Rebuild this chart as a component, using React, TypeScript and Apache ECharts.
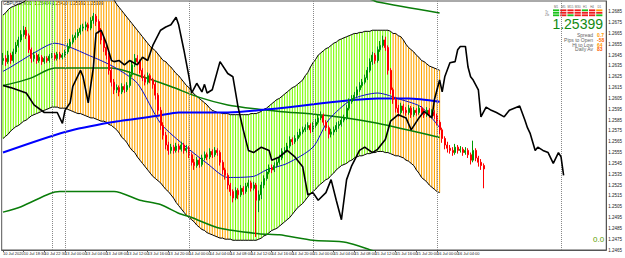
import React, { useEffect, useRef } from 'react';
import * as echarts from 'echarts';

// ---------- data ----------
const N_BARS = 234; // visible slots on the time axis (M30 bars)
const tickLabels = [
  '10 Jul 2020', '10 Jul 18:30', '10 Jul 22:30', '13 Jul 00:00', '13 Jul 04:00', '13 Jul 08:00',
  '13 Jul 12:00', '13 Jul 16:00', '13 Jul 20:00', '14 Jul 00:00', '14 Jul 04:00', '14 Jul 08:00',
  '14 Jul 12:00', '14 Jul 16:00', '14 Jul 20:00', '15 Jul 00:00', '15 Jul 04:00', '15 Jul 08:00',
  '15 Jul 12:00', '15 Jul 16:00', '15 Jul 20:00', '16 Jul 00:00', '16 Jul 04:00', '16 Jul 08:00',
];
const separatorBars = [19, 24, 72, 120, 168, 216];

const firstOpen = 1.2640;
const closes = [
  1.2642, 1.2639, 1.2645, 1.2640, 1.2648, 1.2654, 1.2659, 1.2664, 1.2668, 1.2663,
  1.2650, 1.2642, 1.2645, 1.2640, 1.2643, 1.2639, 1.2642, 1.2640, 1.2644, 1.2645,
  1.2642, 1.2646, 1.2643, 1.2645, 1.2648, 1.2653, 1.2657, 1.2661, 1.2663, 1.2666,
  1.2670, 1.2671, 1.2673, 1.2670, 1.2677, 1.2681, 1.2676, 1.2668, 1.2659, 1.2652,
  1.2645, 1.2631, 1.2620, 1.2613, 1.2615, 1.2611, 1.2616, 1.2613, 1.2617, 1.2627,
  1.2636, 1.2642, 1.2639, 1.2631, 1.2624, 1.2620, 1.2626, 1.2622, 1.2618, 1.2608,
  1.2594, 1.2580, 1.2571, 1.2562, 1.2557, 1.2560, 1.2557, 1.2561, 1.2558, 1.2562,
  1.2557, 1.2559, 1.2553, 1.2546, 1.2543, 1.2548, 1.2544, 1.2550, 1.2553, 1.2551,
  1.2556, 1.2553, 1.2557, 1.2555, 1.2546, 1.2539, 1.2534, 1.2525, 1.2519, 1.2513,
  1.2520, 1.2516, 1.2522, 1.2519, 1.2524, 1.2527, 1.2522, 1.2525, 1.2511, 1.2516,
  1.2525, 1.2531, 1.2537, 1.2541, 1.2539, 1.2543, 1.2546, 1.2550, 1.2556, 1.2557,
  1.2561, 1.2567, 1.2565, 1.2568, 1.2571, 1.2574, 1.2576, 1.2578, 1.2580, 1.2576,
  1.2580, 1.2583, 1.2587, 1.2589, 1.2583, 1.2578, 1.2572, 1.2574, 1.2576, 1.2580,
  1.2581, 1.2585, 1.2587, 1.2596, 1.2602, 1.2605, 1.2608, 1.2613, 1.2617, 1.2620,
  1.2624, 1.2631, 1.2639, 1.2645, 1.2640, 1.2650, 1.2654, 1.2659, 1.2652, 1.2631,
  1.2613, 1.2604, 1.2596, 1.2592, 1.2598, 1.2594, 1.2592, 1.2596, 1.2590, 1.2594,
  1.2592, 1.2596, 1.2592, 1.2590, 1.2594, 1.2590, 1.2592, 1.2589, 1.2583, 1.2576,
  1.2568, 1.2562, 1.2559, 1.2557, 1.2555, 1.2560, 1.2557, 1.2558, 1.2555, 1.2557,
  1.2553, 1.2548, 1.2557, 1.2550, 1.2546, 1.2543, 1.25399,
];
const highs = [
  1.2647, 1.2645, 1.2649, 1.2647, 1.2651, 1.2657, 1.2662, 1.2668, 1.2672, 1.2671,
  1.2665, 1.2652, 1.2648, 1.2647, 1.2646, 1.2645, 1.2644, 1.2644, 1.2646, 1.2647,
  1.2647, 1.2648, 1.2648, 1.2647, 1.2650, 1.2656, 1.2660, 1.2664, 1.2666, 1.2669,
  1.2673, 1.2674, 1.2676, 1.2675, 1.2680, 1.2684, 1.2683, 1.2678, 1.2670, 1.2662,
  1.2655, 1.2647, 1.2634, 1.2623, 1.2618, 1.2617, 1.2619, 1.2618, 1.2620, 1.2630,
  1.2640, 1.2646, 1.2645, 1.2641, 1.2633, 1.2627, 1.2629, 1.2628, 1.2624, 1.2620,
  1.2610, 1.2597, 1.2583, 1.2574, 1.2565, 1.2563, 1.2562, 1.2564, 1.2563, 1.2565,
  1.2564, 1.2562, 1.2561, 1.2555, 1.2549, 1.2551, 1.2550, 1.2553, 1.2556, 1.2555,
  1.2559, 1.2558, 1.2560, 1.2559, 1.2557, 1.2548, 1.2541, 1.2536, 1.2527, 1.2521,
  1.2523, 1.2522, 1.2525, 1.2524, 1.2527, 1.2530, 1.2529, 1.2528, 1.2527, 1.2520,
  1.2528, 1.2534, 1.2540, 1.2544, 1.2544, 1.2546, 1.2549, 1.2553, 1.2559, 1.2560,
  1.2564, 1.2570, 1.2569, 1.2571, 1.2574, 1.2577, 1.2579, 1.2581, 1.2583, 1.2582,
  1.2583, 1.2586, 1.2590, 1.2593, 1.2591, 1.2585, 1.2580, 1.2577, 1.2579, 1.2583,
  1.2584, 1.2588, 1.2590, 1.2599, 1.2605, 1.2608, 1.2611, 1.2616, 1.2620, 1.2623,
  1.2627, 1.2634, 1.2642, 1.2648, 1.2647, 1.2653, 1.2658, 1.2663, 1.2662, 1.2654,
  1.2633, 1.2615, 1.2606, 1.2599, 1.2601, 1.2600, 1.2597, 1.2599, 1.2598, 1.2597,
  1.2596, 1.2599, 1.2598, 1.2595, 1.2597, 1.2596, 1.2595, 1.2594, 1.2591, 1.2585,
  1.2578, 1.2570, 1.2565, 1.2562, 1.2560, 1.2563, 1.2562, 1.2561, 1.2560, 1.2560,
  1.2559, 1.2555, 1.2566, 1.2559, 1.2552, 1.2549, 1.2545,
];
const lows = [
  1.2636, 1.2635, 1.2637, 1.2637, 1.2638, 1.2646, 1.2652, 1.2657, 1.2662, 1.2660,
  1.2647, 1.2638, 1.2639, 1.2637, 1.2638, 1.2636, 1.2637, 1.2638, 1.2638, 1.2642,
  1.2640, 1.2640, 1.2641, 1.2641, 1.2643, 1.2646, 1.2651, 1.2655, 1.2659, 1.2661,
  1.2664, 1.2667, 1.2668, 1.2667, 1.2668, 1.2674, 1.2672, 1.2665, 1.2655, 1.2648,
  1.2641, 1.2627, 1.2616, 1.2609, 1.2610, 1.2607, 1.2609, 1.2610, 1.2611, 1.2615,
  1.2625, 1.2634, 1.2636, 1.2628, 1.2621, 1.2617, 1.2618, 1.2619, 1.2614, 1.2604,
  1.2590, 1.2576, 1.2567, 1.2558, 1.2553, 1.2554, 1.2554, 1.2555, 1.2555, 1.2556,
  1.2554, 1.2555, 1.2550, 1.2543, 1.2539, 1.2541, 1.2541, 1.2542, 1.2548, 1.2548,
  1.2549, 1.2550, 1.2551, 1.2552, 1.2543, 1.2535, 1.2530, 1.2521, 1.2515, 1.2509,
  1.2511, 1.2512, 1.2514, 1.2516, 1.2517, 1.2522, 1.2519, 1.2520, 1.2477, 1.2500,
  1.2512, 1.2522, 1.2529, 1.2535, 1.2536, 1.2537, 1.2541, 1.2544, 1.2548, 1.2553,
  1.2555, 1.2559, 1.2562, 1.2563, 1.2566, 1.2569, 1.2572, 1.2574, 1.2576, 1.2573,
  1.2574, 1.2578, 1.2581, 1.2585, 1.2580, 1.2575, 1.2568, 1.2569, 1.2571, 1.2574,
  1.2577, 1.2579, 1.2583, 1.2585, 1.2594, 1.2600, 1.2603, 1.2606, 1.2611, 1.2615,
  1.2618, 1.2622, 1.2629, 1.2636, 1.2637, 1.2638, 1.2648, 1.2652, 1.2649, 1.2627,
  1.2609, 1.2600, 1.2592, 1.2588, 1.2590, 1.2591, 1.2589, 1.2590, 1.2587, 1.2588,
  1.2589, 1.2590, 1.2589, 1.2587, 1.2588, 1.2587, 1.2588, 1.2586, 1.2580, 1.2572,
  1.2564, 1.2558, 1.2555, 1.2554, 1.2552, 1.2553, 1.2554, 1.2555, 1.2552, 1.2553,
  1.2550, 1.2544, 1.2546, 1.2547, 1.2542, 1.2539, 1.2522,
];

const upperBand = [
  1.2682, 1.2684, 1.2687, 1.2689, 1.2690, 1.2691, 1.2692, 1.2693, 1.2694, 1.2696,
  1.2697, 1.2698, 1.2699, 1.2700, 1.2701, 1.2701, 1.2702, 1.2702, 1.2703, 1.2703,
  1.2704, 1.2704, 1.2704, 1.2705, 1.2705, 1.2705, 1.2705, 1.2705, 1.2705, 1.2705,
  1.2705, 1.2704, 1.2704, 1.2703, 1.2703, 1.2702, 1.2702, 1.2701, 1.2701, 1.2700,
  1.2699, 1.2698, 1.2697, 1.2696, 1.2692, 1.2689, 1.2686, 1.2683, 1.2680, 1.2677,
  1.2674, 1.2671, 1.2668, 1.2665, 1.2662, 1.2659, 1.2656, 1.2653, 1.2651, 1.2649,
  1.2646, 1.2643, 1.2640, 1.2639, 1.2636, 1.2634, 1.2631, 1.2628, 1.2626, 1.2623,
  1.2620, 1.2617, 1.2615, 1.2612, 1.2609, 1.2607, 1.2605, 1.2603, 1.2601, 1.2599,
  1.2596, 1.2594, 1.2593, 1.2592, 1.2592, 1.2591, 1.2591, 1.2591, 1.2590, 1.2590,
  1.2590, 1.2590, 1.2590, 1.2590, 1.2590, 1.2590, 1.2591, 1.2591, 1.2591, 1.2592,
  1.2593, 1.2595, 1.2596, 1.2598, 1.2600, 1.2602, 1.2604, 1.2605, 1.2607, 1.2609,
  1.2611, 1.2613, 1.2615, 1.2616, 1.2618, 1.2620, 1.2622, 1.2626, 1.2629, 1.2634,
  1.2638, 1.2641, 1.2645, 1.2647, 1.2649, 1.2651, 1.2652, 1.2654, 1.2656, 1.2657,
  1.2659, 1.2660, 1.2661, 1.2662, 1.2663, 1.2664, 1.2665, 1.2665, 1.2666, 1.2666,
  1.2667, 1.2667, 1.2667, 1.2668, 1.2668, 1.2668, 1.2668, 1.2668, 1.2668, 1.2668,
  1.2667, 1.2665, 1.2665, 1.2663, 1.2662, 1.2659, 1.2655, 1.2652, 1.2650, 1.2648,
  1.2645, 1.2643, 1.2640, 1.2639, 1.2637, 1.2635, 1.2634, 1.2633, 1.2632, 1.2631,
];
const lowerBand = [
  1.2568, 1.2570, 1.2572, 1.2575, 1.2577, 1.2579, 1.2580, 1.2582, 1.2584, 1.2585,
  1.2587, 1.2589, 1.2590, 1.2591, 1.2592, 1.2593, 1.2594, 1.2595, 1.2596, 1.2597,
  1.2597, 1.2597, 1.2596, 1.2596, 1.2596, 1.2595, 1.2594, 1.2593, 1.2592, 1.2591,
  1.2591, 1.2590, 1.2589, 1.2588, 1.2587, 1.2587, 1.2586, 1.2585, 1.2584, 1.2584,
  1.2583, 1.2581, 1.2580, 1.2578, 1.2576, 1.2573, 1.2569, 1.2567, 1.2564, 1.2560,
  1.2557, 1.2555, 1.2551, 1.2548, 1.2545, 1.2542, 1.2539, 1.2536, 1.2533, 1.2531,
  1.2529, 1.2527, 1.2524, 1.2521, 1.2519, 1.2516, 1.2513, 1.2509, 1.2506, 1.2503,
  1.2500, 1.2497, 1.2495, 1.2493, 1.2491, 1.2488, 1.2486, 1.2484, 1.2483, 1.2481,
  1.2480, 1.2479, 1.2478, 1.2477, 1.2476, 1.2476, 1.2475, 1.2475, 1.2475, 1.2474,
  1.2474, 1.2474, 1.2474, 1.2474, 1.2474, 1.2474, 1.2474, 1.2474, 1.2474, 1.2475,
  1.2476, 1.2478, 1.2479, 1.2481, 1.2483, 1.2484, 1.2485, 1.2487, 1.2489, 1.2491,
  1.2493, 1.2495, 1.2498, 1.2501, 1.2504, 1.2506, 1.2508, 1.2511, 1.2514, 1.2517,
  1.2519, 1.2521, 1.2524, 1.2526, 1.2528, 1.2530, 1.2531, 1.2534, 1.2536, 1.2539,
  1.2541, 1.2543, 1.2544, 1.2545, 1.2547, 1.2548, 1.2550, 1.2551, 1.2552, 1.2552,
  1.2553, 1.2554, 1.2554, 1.2555, 1.2555, 1.2556, 1.2556, 1.2556, 1.2555, 1.2555,
  1.2554, 1.2553, 1.2552, 1.2552, 1.2551, 1.2550, 1.2548, 1.2547, 1.2545, 1.2543,
  1.2539, 1.2536, 1.2532, 1.2530, 1.2528, 1.2525, 1.2523, 1.2521, 1.2519, 1.2518,
];
// trend state of the channel: [firstBar, lastBar, direction]
const trendSegments: [number, number, string][] = [
  [0, 20, 'up'], [21, 87, 'down'], [88, 150, 'up'], [151, 169, 'down'],
];

// moving averages / envelopes read as [bar, price] points
const maSlow = [
  [0, 1.2555], [24, 1.2574], [42, 1.2583], [60, 1.2589], [68, 1.2592], [87, 1.2592],
  [107, 1.2596], [145, 1.2605], [157, 1.2605], [169, 1.2602],
];
const maFast = [
  [0, 1.2630], [3, 1.2634], [12, 1.2647], [20, 1.2656], [35, 1.2643], [43, 1.2634],
  [52, 1.2619], [61, 1.2582], [71, 1.2560], [79, 1.2545], [87, 1.2532], [97, 1.2533],
  [102, 1.2539], [110, 1.2545], [120, 1.2560], [126, 1.2585], [135, 1.2604], [145, 1.2610],
  [154, 1.2604], [162, 1.2597], [169, 1.2578],
];
const envMid = [
  [0, 1.2617], [7, 1.2621], [11, 1.2624], [20, 1.2633], [42, 1.2633], [54, 1.2625],
  [65, 1.2616], [76, 1.2606], [87, 1.2599], [99, 1.2595], [107, 1.2593], [122, 1.2590],
  [133, 1.2587], [145, 1.2582], [169, 1.2569],
];
const envUp = [
  [0, 1.2730], [7, 1.2734], [11, 1.2737], [20, 1.2746], [42, 1.2746], [54, 1.2738],
  [65, 1.2729], [76, 1.2721], [87, 1.2715], [99, 1.2711], [107, 1.2709], [122, 1.2705],
  [133, 1.2701], [143, 1.2696], [145, 1.2694], [169, 1.2684],
];
const envLow = [
  [0, 1.2500], [7, 1.2505], [18, 1.2517], [22, 1.2519], [43, 1.2519], [53, 1.2511],
  [61, 1.2507], [68, 1.2499], [73, 1.2495], [84, 1.2485], [99, 1.2480], [107, 1.2479],
  [120, 1.2474], [133, 1.2472], [145, 1.2463], [169, 1.2451],
];
// shifted price line (black)
const shiftedLine = [
  [0, 1.2617], [3, 1.2615], [9, 1.2610], [12, 1.2599], [16, 1.2592], [21, 1.2592], [23, 1.2582],
  [24, 1.2594], [26, 1.2601], [27, 1.2616], [30, 1.2631], [31, 1.2625], [33, 1.2601], [35, 1.2634],
  [36, 1.2665], [38, 1.2668], [40, 1.2656], [42, 1.2640], [43, 1.2639], [45, 1.2640], [47, 1.2636],
  [49, 1.2640], [52, 1.2636], [54, 1.2643], [56, 1.2640], [58, 1.2654], [61, 1.2668], [63, 1.2671],
  [65, 1.2673], [67, 1.2680], [68, 1.2673], [70, 1.2650], [72, 1.2625], [73, 1.2610], [75, 1.2619],
  [77, 1.2611], [78, 1.2618], [79, 1.2610], [81, 1.2613], [84, 1.2639], [87, 1.2628], [89, 1.2625],
  [91, 1.2597], [93, 1.2576], [95, 1.2557], [97, 1.2555], [100, 1.2560], [103, 1.2557], [104, 1.2548],
  [107, 1.2551], [110, 1.2557], [113, 1.2551], [116, 1.2542], [118, 1.2516], [120, 1.2518], [122, 1.2511],
  [125, 1.2518], [127, 1.2530], [129, 1.2511], [131, 1.2493], [133, 1.2530], [135, 1.2543], [138, 1.2557],
  [140, 1.2560], [143, 1.2555], [145, 1.2558], [148, 1.2567], [150, 1.2584], [153, 1.2590], [156, 1.2587],
  [158, 1.2576], [161, 1.2587], [163, 1.2593], [166, 1.2587], [167, 1.2604], [169, 1.2622], [170, 1.2611],
  [171, 1.2625], [173, 1.2638], [175, 1.2639], [176, 1.2650], [177, 1.2653], [179, 1.2653], [180, 1.2634],
  [181, 1.2625], [182, 1.2622], [184, 1.2613], [185, 1.2588], [187, 1.2597], [189, 1.2594], [191, 1.2592],
  [194, 1.2588], [196, 1.2594], [200, 1.2598], [202, 1.2585], [203, 1.2578], [204, 1.2573], [206, 1.2557],
  [207, 1.2560], [209, 1.2557], [211, 1.2555], [213, 1.2545], [215, 1.2555], [216, 1.2551], [217, 1.2534],
];

const titleText = 'GBPUSD,M30  1.25404 1.25420 1.25392 1.25399';
const lastPriceText = '1.25399';
const tfNames = ['M1', 'M5', 'M15', 'M30', 'H1', 'H4', 'D1'];
const tfSignals = [
  ['up', 'up', 'up'], ['dn', 'dn', 'dn'], ['dn', 'dn', 'up'], ['dn', 'dn', 'dn'],
  ['up', 'dn', 'dn'], ['dn', 'dn', 'dn'], ['flat', 'dn', 'up'],
];
const infoLabels = ['Spread', 'Pips to Open', 'Hi to Low', 'Daily Av'];
const infoValues = ['0.7', '-58', '64', '83'];
const bottomValue = '0.0';

// ---------- chart ----------
const FONT = 'Liberation Sans, Arial, sans-serif';

function trendAt(i: number) {
  for (const s of trendSegments) if (i >= s[0] && i <= s[1]) return s[2];
  return 'up';
}

function buildOption() {
  const categories = Array.from({ length: N_BARS }, (_, i) =>
    i % 8 === 0 && tickLabels[i / 8] ? tickLabels[i / 8] : 'bar' + i);
  const opens = closes.map((_, i) => (i === 0 ? firstOpen : closes[i - 1]));
  const candles = closes.map((c, i) => [opens[i], c, lows[i], highs[i]]);
  const labelShown = (i: number) => i % 8 === 0 && i / 8 < tickLabels.length;

  const lineS = (data: any, color: string, width: number, z: number, smooth: number | boolean = 0.25) => ({
    type: 'line', data, symbol: 'none', smooth, silent: true, z,
    lineStyle: { color, width }, itemStyle: { color },
  });

  const signalColor: Record<string, string> = { up: '#19c219', dn: '#ee1c1c', flat: '#ff9a00' };
  const graphics: any[] = [
    { type: 'text', x: 3, y: 1, style: { text: titleText, fill: '#111', font: `4.5px ${FONT}` } },
    { type: 'text', x: 545, y: 9.5, style: { text: 'Tr', fill: '#777', font: `3.5px ${FONT}` } },
    { type: 'text', x: 545, y: 13, style: { text: 'Zb', fill: '#777', font: `3.5px ${FONT}` } },
  ];
  tfNames.forEach((n, k) => {
    const x0 = 553 + k * 7.2;
    graphics.push({
      type: 'text', x: x0 + 3.1, y: 5.2,
      style: { text: n, fill: '#666', font: `3px ${FONT}`, align: 'center', textAlign: 'center' },
    });
    tfSignals[k].forEach((s, r) => {
      graphics.push({
        type: 'rect', shape: { x: x0, y: 9.4 + r * 2.5, width: 6.2, height: 1.8 },
        style: { fill: signalColor[s] }, silent: true,
      });
    });
  });
  graphics.push({
    type: 'text', x: 603, y: 16.5,
    style: { text: lastPriceText, fill: '#128a12', font: `14px ${FONT}`, align: 'right', textAlign: 'right' },
  });
  infoLabels.forEach((t, k) => {
    graphics.push({
      type: 'text', x: 593, y: 32.2 + k * 4.9,
      style: { text: t, fill: '#666', font: `5px ${FONT}`, align: 'right', textAlign: 'right' },
    });
  });
  const valColors = ['#ff9900', '#ff6a00', '#ff9900', '#ff5a00'];
  infoValues.forEach((t, k) => {
    graphics.push({
      type: 'text', x: 597, y: 32.2 + k * 4.9,
      style: { text: t, fill: valColors[k], font: `bold 5px ${FONT}` },
    });
  });
  graphics.push({
    type: 'text', x: 593, y: 235.5,
    style: { text: bottomValue, fill: '#5c9e00', font: `8px ${FONT}` },
  });

  return {
    animation: false,
    backgroundColor: '#ffffff',
    grid: { left: 0.5, right: 15.2, top: 1, bottom: 8, show: true, borderColor: '#555', borderWidth: 1 },
    xAxis: {
      type: 'category', data: categories, boundaryGap: true,
      axisLine: { show: true, lineStyle: { color: '#555', width: 1 } },
      axisTick: { show: true, alignWithLabel: true, interval: (i: number) => labelShown(i), length: 2, lineStyle: { color: '#555' } },
      axisLabel: {
        show: true, interval: (i: number) => labelShown(i),
        formatter: (_v: string, i: number) => tickLabels[i / 8] || '',
        fontSize: 4, color: '#222', align: 'left', margin: 1.5, fontFamily: FONT,
      },
      splitLine: { show: false },
    },
    yAxis: {
      type: 'value', position: 'right', min: 1.2465, max: 1.2695, interval: 0.0005,
      splitLine: { show: false },
      axisLine: { show: true, lineStyle: { color: '#555' } },
      axisTick: { show: false },
      axisLabel: {
        fontSize: 4.5, color: '#222', margin: 2, fontFamily: FONT, showMaxLabel: false,
        formatter: (v: number) => (Math.round(v * 10000) % 10 === 5 ? v.toFixed(4) : ''),
      },
    },
    series: [
      {
        type: 'bar', stack: 'band', data: lowerBand, barWidth: 1.1, silent: true, z: 1,
        itemStyle: { color: 'rgba(0,0,0,0)' },
      },
      {
        type: 'bar', stack: 'band', barWidth: 1.1, silent: true, z: 1,
        data: upperBand.map((u, i) => ({
          value: +(u - lowerBand[i]).toFixed(5),
          itemStyle: { color: trendAt(i) === 'up' ? '#7cfc00' : '#ffa500' },
        })),
      },
      lineS(upperBand, '#000', 1, 2, false),
      lineS(lowerBand, '#000', 1, 2, false),
      lineS(envUp, '#0a7d0a', 1.5, 3),
      lineS(envMid, '#0a7d0a', 1.5, 3),
      lineS(envLow, '#0a7d0a', 1.5, 3),
      lineS(maSlow, '#0000ff', 2, 3),
      lineS(maFast, '#1010c8', 1, 3),
      {
        type: 'candlestick', data: candles, barWidth: 1.5, z: 4, silent: true, clip: false,
        itemStyle: { color: '#009900', color0: '#ff0000', borderColor: '#009900', borderColor0: '#ff0000', borderWidth: 1 },
        markLine: {
          silent: true, symbol: ['none', 'none'],
          lineStyle: { opacity: 0, width: 0 },
          label: {
            show: true, position: 'end', distance: 1, formatter: lastPriceText,
            backgroundColor: '#000', color: '#fff', fontSize: 4.5, padding: [1, 1], fontFamily: FONT,
          },
          data: [{ yAxis: closes[closes.length - 1] }],
        },
      },
      {
        ...lineS(shiftedLine, '#000', 1.6, 5, false),
        markLine: {
          silent: true, symbol: ['none', 'none'],
          lineStyle: { color: '#888', type: 'dotted', width: 1 },
          label: { show: false },
          data: separatorBars.map((b) => ({ xAxis: b })),
        },
      },
    ],
    graphic: graphics,
  };
}

export default function App() {
  const ref = useRef<HTMLDivElement>(null);
  useEffect(() => {
    if (!ref.current) return;
    const chart = echarts.init(ref.current, null, { renderer: 'svg' });
    chart.setOption(buildOption() as any);
    return () => chart.dispose();
  }, []);
  return (
    <div
      ref={ref}
      style={{ position: 'fixed', left: 0, top: 0, width: 625, height: 258, background: '#fff' }}
    />
  );
}
